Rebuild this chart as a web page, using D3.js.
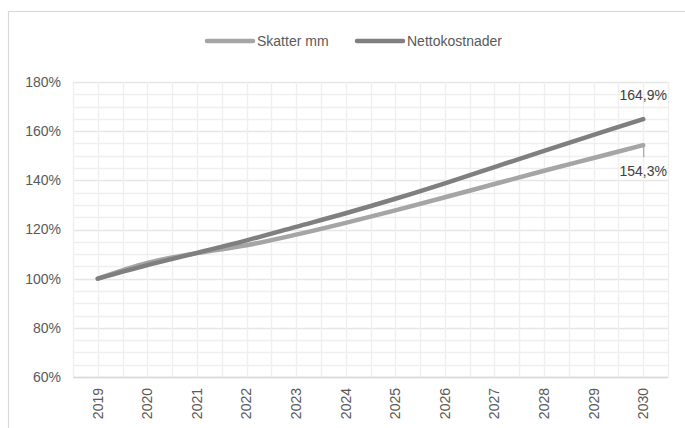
<!DOCTYPE html>
<html><head><meta charset="utf-8">
<script src="https://cdn.jsdelivr.net/npm/d3@7"></script>
<style>body{margin:0;background:#fff}svg{display:block;font-family:"Liberation Sans",Arial,sans-serif}</style>
</head><body><svg id="c" width="685" height="428"></svg>
<script>
const years = ["2019","2020","2021","2022","2023","2024","2025","2026","2027","2028","2029","2030"];
const skatter = [100,106.4,110.4,113.6,117.9,122.7,127.8,133.1,138.5,143.9,149.1,154.3];
const netto = [100,105.5,110.5,115.6,121.1,126.6,132.5,138.8,145.4,152.0,158.5,164.9];
const seriesNames = ["Skatter mm","Nettokostnader"];
const yTicks = [60,80,100,120,140,160,180];

const svg = d3.select("#c");
svg.append("rect").attr("x",8.5).attr("y",11.5).attr("width",700).attr("height",430)
  .attr("fill","#fff").attr("stroke","#d9d9d9").attr("stroke-width",1.2);

const L=73,R=668,T=82,B=377;
const x = d3.scaleBand().domain(years).range([L,R]);
const y = d3.scaleLinear().domain([60,180]).range([B,T]);
const g = svg.append("g");
const minor = d3.range(60,181,5);
g.selectAll(".hg").data(minor).join("line")
  .attr("x1",L).attr("x2",R).attr("y1",d=>Math.round(y(d))+0.5).attr("y2",d=>Math.round(y(d))+0.5)
  .attr("stroke",d=>d%20===0?"#e6e6e6":"#efefef").attr("stroke-width",1.4);
const vx = [];
years.forEach(d=>{vx.push(x(d)); vx.push(x(d)+x.bandwidth()/2);});
vx.push(R);
g.selectAll(".vg").data(vx).join("line")
  .attr("x1",d=>Math.round(d)+0.5).attr("x2",d=>Math.round(d)+0.5).attr("y1",T).attr("y2",B)
  .attr("stroke","#efefef").attr("stroke-width",1.4);
g.append("line").attr("x1",L).attr("x2",R).attr("y1",B+0.5).attr("y2",B+0.5).attr("stroke","#d9d9d9").attr("stroke-width",1.3);

const yAxis = d3.axisLeft(y).tickValues(yTicks).tickSize(0).tickPadding(0).tickFormat(d=>d+"%");
const ya = svg.append("g").attr("transform",`translate(61,0)`).call(yAxis);
ya.select(".domain").remove();
ya.selectAll("text").attr("font-size",14).attr("fill","#595959").attr("font-family","Liberation Sans, Arial, sans-serif");

const xAxis = d3.axisBottom(x).tickSize(0).tickPadding(0);
const xa = svg.append("g").attr("transform",`translate(0,${B})`).call(xAxis);
xa.select(".domain").remove();
xa.selectAll("text").attr("font-size",14).attr("fill","#595959").attr("font-family","Liberation Sans, Arial, sans-serif")
  .attr("transform","rotate(-90)").attr("text-anchor","end").attr("dy","0.35em").attr("x",-11).attr("y",0);

const line = d3.line().x((d,i)=>x(years[i])+x.bandwidth()/2).y(d=>y(d)).curve(d3.curveCatmullRom.alpha(0.5));
const colors = ["#a5a5a5","#7f7f7f"];
[skatter,netto].forEach((s,k)=>{
  svg.append("path").datum(s).attr("d",line).attr("fill","none").attr("stroke",colors[k])
    .attr("stroke-width",4.5).attr("stroke-linecap","round").attr("stroke-linejoin","round");
});
const xe = x("2030")+x.bandwidth()/2;
svg.append("text").attr("x",xe).attr("y",y(netto[11])-24).attr("dy","0.35em").attr("text-anchor","middle")
  .attr("font-size",14).attr("fill","#404040").text(netto[11].toFixed(1).replace(".",",")+"%");
svg.append("line").attr("x1",xe+0.5).attr("x2",xe+0.5).attr("y1",y(skatter[11])).attr("y2",y(skatter[11])+12)
  .attr("stroke","#a5a5a5").attr("stroke-width",1.2);
svg.append("text").attr("x",xe).attr("y",y(skatter[11])+26).attr("dy","0.35em").attr("text-anchor","middle")
  .attr("font-size",14).attr("fill","#404040").text(skatter[11].toFixed(1).replace(".",",")+"%");

const leg = [{x:205,name:seriesNames[0],c:colors[0]},{x:355,name:seriesNames[1],c:colors[1]}];
leg.forEach(l=>{
  svg.append("line").attr("x1",l.x+2).attr("x2",l.x+48).attr("y1",41).attr("y2",41).attr("stroke",l.c)
    .attr("stroke-width",4.5).attr("stroke-linecap","round");
  svg.append("text").attr("x",l.x+52).attr("y",41).attr("dy","0.35em").attr("font-size",14).attr("fill","#595959").text(l.name);
});
</script></body></html>
